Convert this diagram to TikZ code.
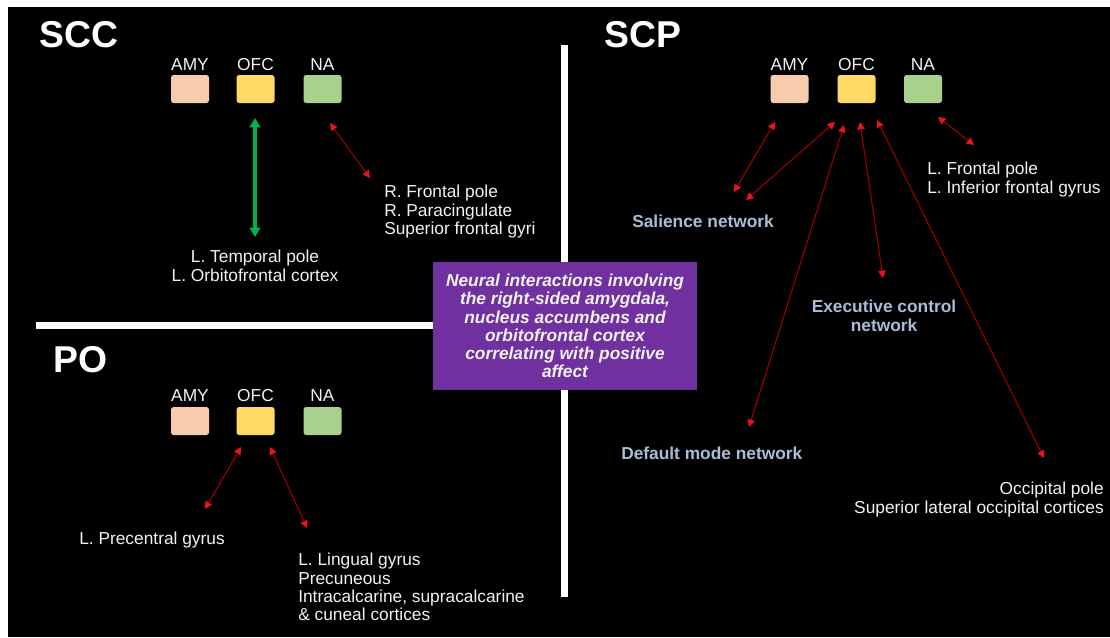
\documentclass[tikz,border=0pt]{standalone}
\usepackage{fontspec}
\setmainfont{Liberation Sans}
\usetikzlibrary{arrows.meta}
\definecolor{amyc}{HTML}{F8CBAD}
\definecolor{ofcc}{HTML}{FFD966}
\definecolor{nac}{HTML}{A9D18E}
\definecolor{grn}{HTML}{00B050}
\definecolor{redl}{HTML}{A00000}
\definecolor{redh}{HTML}{F01020}
\definecolor{netc}{HTML}{A9BCD8}
\definecolor{purp}{HTML}{7030A0}
\definecolor{txt}{HTML}{F2F2F2}
\begin{document}
\begin{tikzpicture}[x=0.75pt,y=-0.75pt,
 region/.style={anchor=base west, inner sep=0, font=\fontsize{28}{30}\selectfont\bfseries, text=white},
 lbl/.style={anchor=base, inner sep=0, font=\fontsize{13}{14}\selectfont, text=txt},
 sq/.style={draw=none, rounded corners=2pt, minimum width=28.5pt, minimum height=21pt, inner sep=0},
 info/.style={inner sep=0, font=\fontsize{13}{13.7}\selectfont, text=txt},
 net/.style={inner sep=0, font=\fontsize{13}{13.7}\selectfont\bfseries, text=netc},
 link/.style={draw=redl, line width=0.8pt, {Triangle[length=5.5pt,width=5.5pt,color=redh]}-{Triangle[length=5.5pt,width=5.5pt,color=redh]}},
 glink/.style={draw=grn, line width=3pt, {Triangle[length=7pt,width=8pt]}-{Triangle[length=7pt,width=8pt]}},
 sep/.style={draw=white, line width=5.25pt}
]
% background
\fill[white] (0,0) rectangle (1110,637);
\fill[black] (8,7) rectangle (1110,637);
\useasboundingbox (0,0) rectangle (1110,637);

% separators
\coordinate (vtop) at (564.5,45);
\coordinate (vbot) at (564.5,597);
\coordinate (hl) at (36,325.5);
\coordinate (hr) at (440,325.5);
\draw[sep] (vtop) -- (vbot);
\draw[sep] (hl) -- (hr);

% titles
\node[region] (scc) at (39,47) {SCC};
\node[region] (scp) at (604,47) {SCP};
\node[region] (po) at (53,372) {PO};

% SCC group
\node[lbl] (amyAl) at (190,70) {AMY};
\node[lbl] (ofcAl) at (255.5,70) {OFC};
\node[lbl] (naAl) at (322.5,70) {NA};
\node[sq, fill=amyc] (amyA) at (190,89) {};
\node[sq, fill=ofcc] (ofcA) at (255.5,89) {};
\node[sq, fill=nac] (naA) at (322.5,89) {};
\node[info, anchor=north, align=center] (tempA) at (255,250) {L. Temporal pole\\L. Orbitofrontal cortex};
\node[info, anchor=north west, align=left] (frontA) at (384,185) {R. Frontal pole\\R. Paracingulate\\Superior frontal gyri};
\coordinate (gA1) at (255,118);
\coordinate (gA2) at (255,237);
\coordinate (rA1) at (330,123);
\coordinate (rA2) at (370,178);
\draw[glink] (gA1) -- (gA2);
\draw[link] (rA1) -- (rA2);

% SCP group
\node[lbl] (amyBl) at (789.5,70) {AMY};
\node[lbl] (ofcBl) at (856.5,70) {OFC};
\node[lbl] (naBl) at (923,70) {NA};
\node[sq, fill=amyc] (amyB) at (789.5,89) {};
\node[sq, fill=ofcc] (ofcB) at (856.5,89) {};
\node[sq, fill=nac] (naB) at (923,89) {};
\node[info, anchor=north west, align=left] (frontB) at (927,162) {L. Frontal pole\\L. Inferior frontal gyrus};
\node[net, anchor=north west] (sal) at (632,215) {Salience network};
\node[net, anchor=north, align=center] (exe) at (884,300) {Executive control\\network};
\node[net, anchor=north west] (dmn) at (621,447) {Default mode network};
\node[info, anchor=north east, align=right] (occ) at (1104,482) {Occipital pole\\Superior lateral occipital cortices};
\coordinate (b1a) at (775,122);  \coordinate (b1b) at (734,192);
\coordinate (b2a) at (835,122);  \coordinate (b2b) at (746,200);
\coordinate (b3a) at (844,125);  \coordinate (b3b) at (749,427);
\coordinate (b4a) at (860,122);  \coordinate (b4b) at (883,278);
\coordinate (b5a) at (877,120);  \coordinate (b5b) at (1044,458);
\coordinate (b6a) at (938,117);  \coordinate (b6b) at (974,145);
\draw[link] (b1a) -- (b1b);
\draw[link] (b2a) -- (b2b);
\draw[link] (b3a) -- (b3b);
\draw[link] (b4a) -- (b4b);
\draw[link] (b5a) -- (b5b);
\draw[link] (b6a) -- (b6b);

% PO group
\node[lbl] (amyCl) at (190,401) {AMY};
\node[lbl] (ofcCl) at (255.5,401) {OFC};
\node[lbl] (naCl) at (322.5,401) {NA};
\node[sq, fill=amyc] (amyC) at (190,421) {};
\node[sq, fill=ofcc] (ofcC) at (255.5,421) {};
\node[sq, fill=nac] (naC) at (322.5,421) {};
\node[info, anchor=north west] (prec) at (79,532) {L. Precentral gyrus};
\node[info, anchor=north west, align=left] (ling) at (298,553) {L. Lingual gyrus\\Precuneous\\Intracalcarine, supracalcarine\\\& cuneal cortices};
\coordinate (c1a) at (241,447);  \coordinate (c1b) at (205,509);
\coordinate (c2a) at (270,447);  \coordinate (c2b) at (307,528);
\draw[link] (c1a) -- (c1b);
\draw[link] (c2a) -- (c2b);

% central box
\node[fill=purp, minimum width=198pt, minimum height=96pt, inner sep=0, align=center,
      text=txt, font=\fontsize{13}{13.7}\selectfont\bfseries\itshape] (center) at (565,326)
  {Neural interactions involving\\the right-sided amygdala,\\nucleus accumbens and\\orbitofrontal cortex\\correlating with positive\\affect};
\end{tikzpicture}
\end{document}
